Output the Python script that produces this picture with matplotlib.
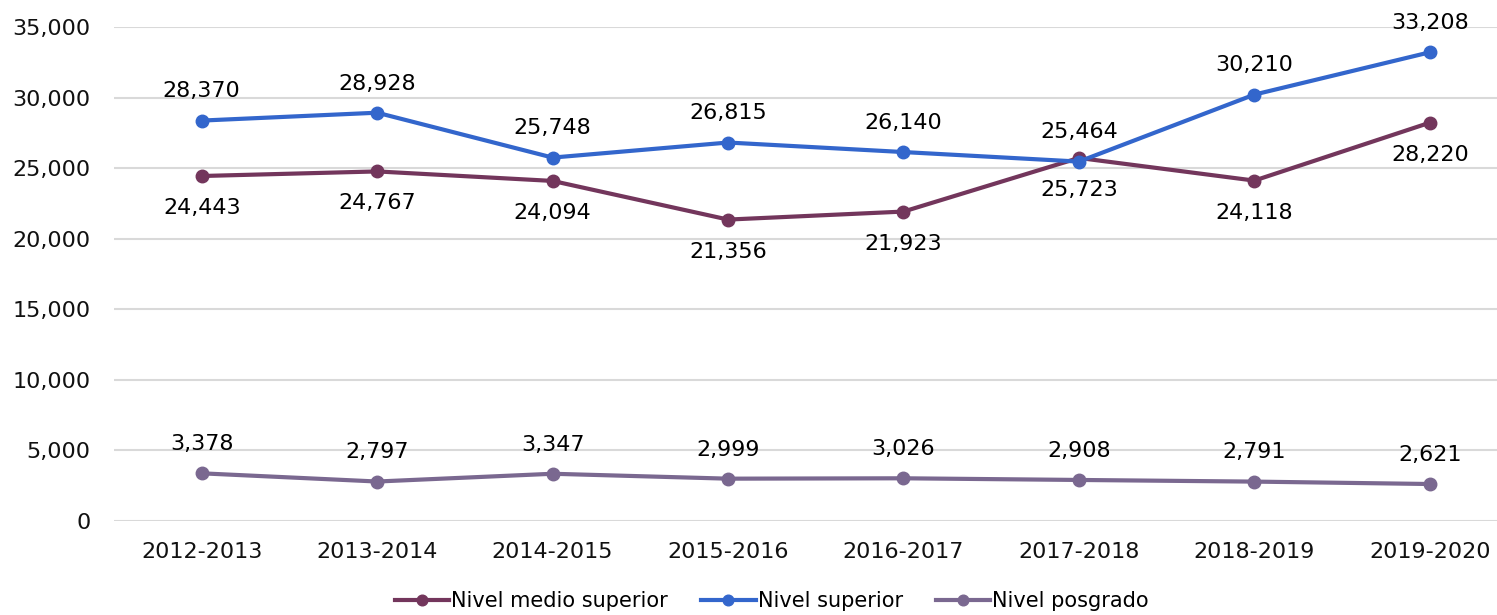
import matplotlib.pyplot as plt
from matplotlib.ticker import FuncFormatter

periodos = ["2012-2013", "2013-2014", "2014-2015", "2015-2016",
            "2016-2017", "2017-2018", "2018-2019", "2019-2020"]
medio_superior = [24443, 24767, 24094, 21356, 21923, 25723, 24118, 28220]
superior = [28370, 28928, 25748, 26815, 26140, 25464, 30210, 33208]
posgrado = [3378, 2797, 3347, 2999, 3026, 2908, 2791, 2621]

c_medio = "#73365C"
c_sup = "#3366CC"
c_pos = "#7A6890"

plt.rcParams['font.family'] = ['DejaVu Sans']

fig = plt.figure(figsize=(14.97, 6.15), dpi=100)
ax = fig.add_axes([114 / 1497, 94 / 615, 1 - 114 / 1497, (521 - 27) / 615])

x = list(range(len(periodos)))
ax.plot(x, medio_superior, color=c_medio, lw=3, marker="o", ms=9,
        label="Nivel medio superior", zorder=3)
ax.plot(x, superior, color=c_sup, lw=3, marker="o", ms=9,
        label="Nivel superior", zorder=4)
ax.plot(x, posgrado, color=c_pos, lw=3, marker="o", ms=9,
        label="Nivel posgrado", zorder=3)

# data labels
for i in x:
    ax.annotate(f"{superior[i]:,}", (i, superior[i]), xytext=(0, 21),
                textcoords="offset points", ha="center", va="center", fontsize=16)
    ax.annotate(f"{medio_superior[i]:,}", (i, medio_superior[i]), xytext=(0, -23),
                textcoords="offset points", ha="center", va="center", fontsize=16)
    ax.annotate(f"{posgrado[i]:,}", (i, posgrado[i]), xytext=(0, 21),
                textcoords="offset points", ha="center", va="center", fontsize=16)

ax.set_xlim(-0.5, (1497 - 202) / 175.4)
ax.set_ylim(0, 35000)
ax.set_yticks(range(0, 35001, 5000))
ax.yaxis.set_major_formatter(FuncFormatter(lambda v, p: f"{int(v):,}"))
ax.set_xticks(x)
ax.set_xticklabels(periodos)
ax.tick_params(length=0, labelsize=16, colors="#111111")
ax.tick_params(axis="x", pad=15)
ax.tick_params(axis="y", pad=17)
ax.grid(axis="y", color="#d9d9d9", lw=1.5)
ax.set_axisbelow(True)
for s in ax.spines.values():
    s.set_visible(False)

fig.legend(loc="center", bbox_to_anchor=(772 / 1497, 1 - 601 / 615), ncol=3,
           frameon=False, handlelength=2.6, handletextpad=0.1, columnspacing=1.6,
           markerscale=0.85,
           prop={'family': ['Liberation Sans Narrow', 'DejaVu Sans'], 'size': 15})

fig.savefig("out.png", dpi=100)
